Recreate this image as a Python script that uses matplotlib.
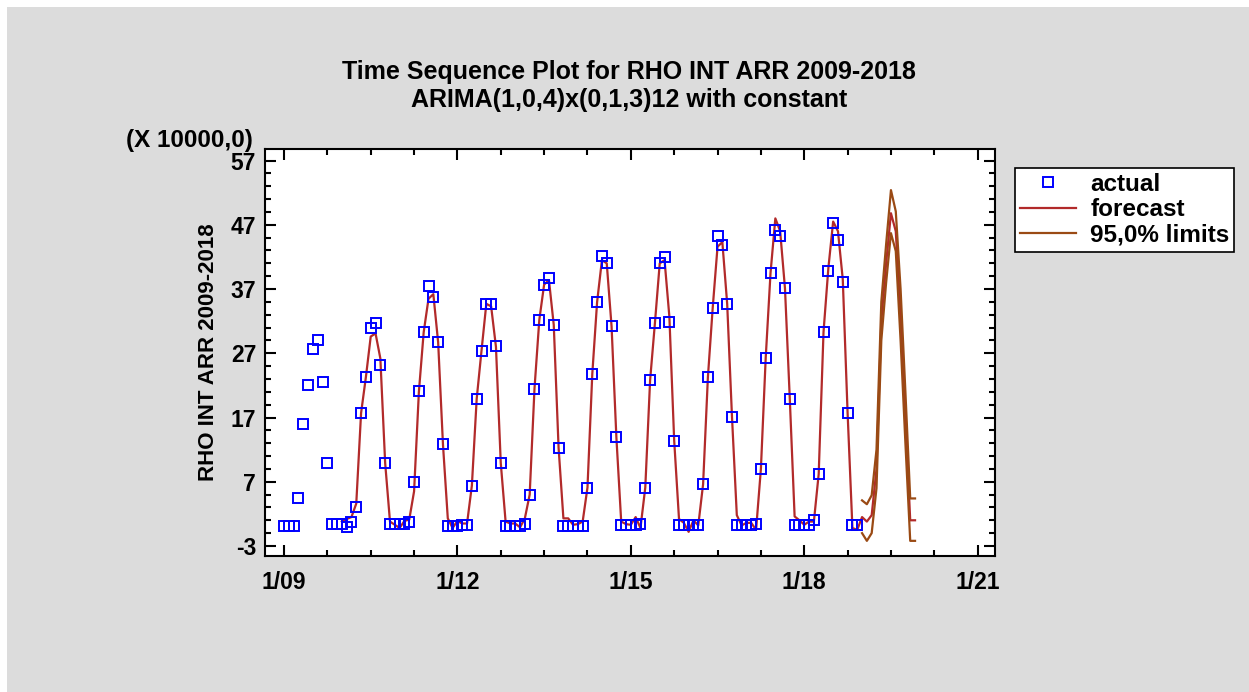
import matplotlib
matplotlib.use("Agg")
import matplotlib.pyplot as plt
import numpy as np
from matplotlib.patches import Rectangle
from matplotlib.ticker import FixedLocator, MultipleLocator

plt.rcParams["font.family"] = ["Liberation Sans", "DejaVu Sans"]
plt.rcParams["font.weight"] = "bold"
plt.rcParams["axes.unicode_minus"] = False

# ---- data (units of 10000), monthly from Jan 2009 --------------------------
# actual values, Jan 2009 .. Dec 2018 (120 months)
actual = [
    0.1, 0.1, 0.1, 4.4, 16.0, 22.0, 27.6, 29.0, 22.5, 9.9, 0.4, 0.4,      # 2009
    0.4, 0.0, 0.7, 3.1, 17.7, 23.3, 30.9, 31.7, 25.2, 9.9, 0.4, 0.4,      # 2010
    0.4, 0.4, 0.7, 6.9, 21.2, 30.3, 37.4, 35.7, 28.7, 12.8, 0.1, 0.1,     # 2011
    0.1, 0.3, 0.3, 6.4, 19.9, 27.4, 34.7, 34.7, 28.2, 9.9, 0.1, 0.1,      # 2012
    0.1, 0.1, 0.4, 5.0, 21.5, 32.2, 37.7, 38.7, 31.4, 12.3, 0.1, 0.1,     # 2013
    0.1, 0.1, 0.1, 6.1, 23.8, 35.0, 42.1, 41.1, 31.2, 13.9, 0.2, 0.2,     # 2014
    0.2, 0.2, 0.4, 6.1, 22.8, 31.7, 41.1, 42.0, 31.9, 13.4, 0.2, 0.2,     # 2015
    0.2, 0.2, 0.3, 6.6, 23.3, 34.1, 45.2, 43.8, 34.7, 17.1, 0.2, 0.2,     # 2016
    0.2, 0.2, 0.4, 9.0, 26.3, 39.5, 46.2, 45.2, 37.1, 19.9, 0.2, 0.2,     # 2017
    0.2, 0.2, 1.0, 8.2, 30.3, 39.8, 47.3, 44.6, 38.1, 17.7, 0.2, 0.2,     # 2018
]

# one-step fitted values, Jan 2010 .. Dec 2018
fitted = [
    0.8, 1.2, 1.5, 3.6, 17.7, 23.3, 29.6, 30.1, 26.2, 9.9, 0.8, 0.3,      # 2010
    -0.2, 0.9, 1.1, 5.5, 21.0, 30.3, 35.5, 36.2, 28.7, 12.8, 1.3, -0.2,   # 2011
    0.9, 0.5, 0.5, 6.4, 19.9, 27.4, 34.7, 34.3, 28.0, 9.9, 0.8, 0.5,      # 2012
    0.5, -0.1, 1.3, 5.0, 21.5, 32.2, 37.7, 38.4, 31.4, 12.3, 1.3, 1.3,    # 2013
    0.3, 0.4, 0.8, 6.1, 23.8, 35.0, 41.5, 41.0, 31.2, 13.9, 0.8, 0.4,     # 2014
    0.3, 1.5, -0.2, 6.1, 22.8, 31.7, 41.0, 41.5, 32.7, 13.4, 1.2, 0.6,    # 2015
    -0.8, 1.0, 0.2, 6.6, 23.3, 34.1, 43.6, 44.3, 34.7, 17.1, 1.8, 0.2,    # 2016
    0.6, 0.6, -0.5, 9.0, 26.3, 39.5, 48.0, 46.0, 37.1, 19.9, 1.6, 1.0,    # 2017
    0.3, 0.8, 0.8, 8.2, 30.3, 40.2, 47.5, 46.0, 38.5, 17.7, -0.2, -0.5,   # 2018
]

# forecasts and 95% limits, Jan 2019 .. Dec 2019
forecast = [1.5, 0.8, 1.8, 9.0, 32.0, 41.0, 48.8, 46.0, 33.0, 17.0, 1.0, 1.0]
upper = [4.1, 3.5, 4.9, 12.0, 35.0, 44.0, 52.4, 49.1, 37.0, 21.0, 4.4, 4.4]
lower = [-1.0, -2.2, -1.0, 6.0, 29.0, 38.0, 45.7, 42.9, 29.0, 13.0, -2.2, -2.2]

tick_months = [0, 36, 72, 108, 144]
tick_labels = ["1/09", "1/12", "1/15", "1/18", "1/21"]

# ---- figure ----------------------------------------------------------------
fig = plt.figure(figsize=(12.49, 6.92), dpi=100, facecolor="white")
fig.patches.append(Rectangle((7 / 1249, 0), 1, 1 - 7 / 692, transform=fig.transFigure,
                             facecolor="#dcdcdc", edgecolor="none", zorder=-10))

ax = fig.add_axes([264.5 / 1249, 136 / 692, 730.5 / 1249, 407 / 692])
ax.set_facecolor("white")

t_act = np.arange(len(actual))
t_fit = np.arange(12, 12 + len(fitted) + len(forecast))
t_fc = np.arange(120, 120 + len(forecast))

ax.plot(t_act, actual, linestyle="none", marker="s", markersize=6.5,
        markerfacecolor="none", markeredgecolor="#0000ff", markeredgewidth=1.4,
        label="actual", zorder=3)
ax.plot(t_fit, fitted + forecast, color="#b22a2a", lw=1.6, label="forecast", zorder=2)
ax.plot(t_fc, upper, color="#9a4a14", lw=1.6, label="95,0% limits", zorder=2)
ax.plot(t_fc, lower, color="#9a4a14", lw=1.6, zorder=2)

ax.set_xlim(-4.05, 147.6)
ax.set_ylim(-4.56, 58.8)
ax.set_xticks(tick_months)
ax.set_xticklabels(tick_labels)
ax.xaxis.set_minor_locator(MultipleLocator(9))
ax.set_yticks(np.arange(-3, 58, 10))
ax.yaxis.set_minor_locator(FixedLocator(np.arange(-3, 58, 2)))
ax.tick_params(which="both", direction="in", top=True, right=True, width=1.5,
               labelsize=16.5)
ax.tick_params(axis="x", pad=11)
ax.tick_params(axis="y", pad=6)
ax.tick_params(which="major", length=8)
ax.tick_params(which="minor", length=4)
for s in ax.spines.values():
    s.set_linewidth(1.5)

ax.set_ylabel("RHO INT ARR 2009-2018", fontsize=16, fontweight="bold", labelpad=8)
fig.text(629 / 1249, 1 - 72 / 692, "Time Sequence Plot for RHO INT ARR 2009-2018",
         ha="center", va="center", fontsize=18, fontweight="bold")
fig.text(629 / 1249, 1 - 100 / 692, "ARIMA(1,0,4)x(0,1,3)12 with constant",
         ha="center", va="center", fontsize=18, fontweight="bold")
fig.text(253 / 1249, 1 - 140 / 692, "(X 10000,0)", ha="right", va="center",
         fontsize=17.5, fontweight="bold")

leg = fig.legend(loc="upper left", bbox_to_anchor=(1015 / 1249, 1 - 168 / 692),
                 frameon=True, fancybox=False, edgecolor="black", framealpha=1,
                 fontsize=17.5, handlelength=2.3, handletextpad=0.6, labelspacing=0.1,
                 borderpad=0.2, borderaxespad=0)
leg.get_frame().set_linewidth(1.2)

fig.savefig("out.png", dpi=100)
